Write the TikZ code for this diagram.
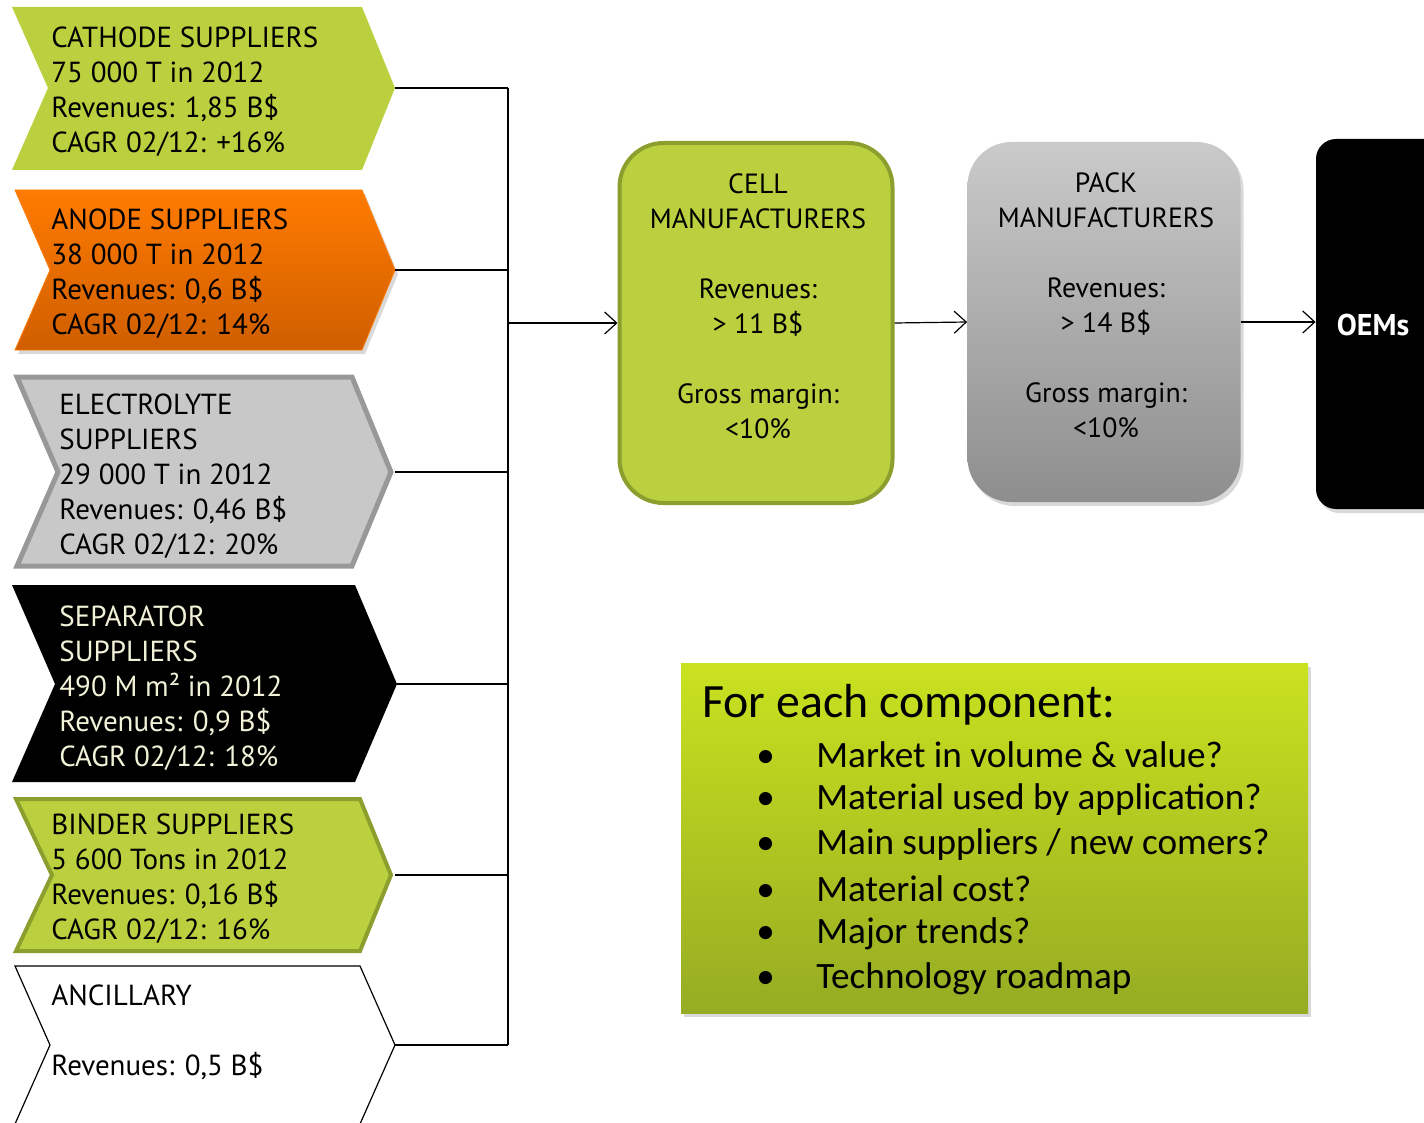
\documentclass[tikz,border=0pt]{standalone}
\usepackage{fontspec}
\setmainfont{PT Sans}
\newfontfamily\qfont{Carlito}
\usetikzlibrary{arrows.meta,shadows}

\definecolor{limegreen}{RGB}{187,208,62}
\definecolor{olivegreen}{RGB}{140,158,46}
\definecolor{anodetop}{RGB}{255,123,0}
\definecolor{anodebottom}{RGB}{207,94,0}
\definecolor{lightgrey}{RGB}{200,200,200}
\definecolor{midgrey}{RGB}{152,152,152}
\definecolor{packtop}{RGB}{202,202,202}
\definecolor{packbottom}{RGB}{142,142,142}
\definecolor{creamtext}{RGB}{242,242,216}
\definecolor{qtop}{RGB}{202,226,31}
\definecolor{qbottom}{RGB}{150,172,35}

\tikzset{
  supplier/.style={anchor=west, align=left, inner sep=0pt, font=\fontsize{14.5pt}{17.5pt}\selectfont},
  maker/.style={rounded corners=22pt, minimum width=136.5pt, minimum height=180pt},
  makertext/.style={align=center, inner sep=0pt, font=\fontsize{13.9pt}{17.5pt}\selectfont},
  link/.style={line width=0.6pt},
  flow/.style={line width=0.6pt, -{Straight Barb[length=6pt,width=11pt]}},
  question/.style={anchor=west, inner sep=0pt, font=\qfont\fontsize{18.6pt}{22pt}\selectfont},
  softshadow/.style={drop shadow={opacity=0.3, shadow xshift=1.5pt, shadow yshift=-2pt}}
}

\begin{document}
\begin{tikzpicture}[x=0.5pt, y=-0.5pt]
\useasboundingbox (0,0) rectangle (1424,1123);

% suppliers
\fill[limegreen] (12,7) -- (362,7) -- (395,88) -- (362,170) -- (12,170) -- (48,88) -- cycle;
\node[supplier] (cathode) at (51,92) {CATHODE SUPPLIERS\\75 000 T in 2012\\Revenues: 1,85 B\$\\CAGR 02/12: +16\%};
\coordinate (cathodetip) at (395,88);

\path[top color=anodetop, bottom color=anodebottom, draw=anodetop, softshadow] (15,190) -- (362,190) -- (395,270) -- (362,350) -- (15,350) -- (50,270) -- cycle;
\node[supplier] (anode) at (51,274) {ANODE SUPPLIERS\\38 000 T in 2012\\Revenues: 0,6 B\$\\CAGR 02/12: 14\%};
\coordinate (anodetip) at (395,270);

\draw[fill=lightgrey, draw=midgrey, line width=2.5pt] (17,377) -- (352,377) -- (391,472) -- (352,566) -- (17,566) -- (58,472) -- cycle;
\node[supplier] (electrolyte) at (59,476) {ELECTROLYTE\\SUPPLIERS\\29 000 T in 2012\\Revenues: 0,46 B\$\\CAGR 02/12: 20\%};
\coordinate (electrolytetip) at (395,472);

\fill[black] (12,585) -- (355,585) -- (397,684) -- (355,782) -- (12,782) -- (55,684) -- cycle;
\node[supplier, text=creamtext] (separator) at (59,688) {SEPARATOR\\SUPPLIERS\\490 M m² in 2012\\Revenues: 0,9 B\$\\CAGR 02/12: 18\%};
\coordinate (separatortip) at (397,684);

\draw[fill=limegreen, draw=olivegreen, line width=2pt] (16,799) -- (360,799) -- (391,875) -- (360,951) -- (16,951) -- (52,875) -- cycle;
\node[supplier] (binder) at (51,879) {BINDER SUPPLIERS\\5 600 Tons in 2012\\Revenues: 0,16 B\$\\CAGR 02/12: 16\%};
\coordinate (bindertip) at (395,875);

\draw[fill=white, line width=0.6pt] (15,966) -- (360,966) -- (395,1045) -- (360,1124) -- (15,1124) -- (50,1045) -- cycle;
\node[supplier] (ancillary) at (51,1032) {ANCILLARY\\ \\Revenues: 0,5 B\$};
\coordinate (ancillarytip) at (395,1045);

%-------------------------------------
\coordinate (busmid) at (508,323);
\draw[link] (cathodetip) -- (cathodetip -| busmid);
\draw[link] (anodetip) -- (anodetip -| busmid);
\draw[link] (electrolytetip) -- (electrolytetip -| busmid);
\draw[link] (separatortip) -- (separatortip -| busmid);
\draw[link] (bindertip) -- (bindertip -| busmid);
\draw[link] (ancillarytip) -- (ancillarytip -| busmid);
\draw[link] (cathodetip -| busmid) -- (ancillarytip -| busmid);

% makers
\node[maker, fill=limegreen, draw=olivegreen, line width=2pt] (cell) at (756,323) {};
\node[makertext] (celltext) at (758,306) {CELL\\MANUFACTURERS\\[17.5pt]Revenues:\\> 11 B\$\\[17.5pt]Gross margin:\\<10\%};

\node[maker, top color=packtop, bottom color=packbottom, softshadow] (pack) at (1104,322) {};
\node[makertext] (packtext) at (1106,305) {PACK\\MANUFACTURERS\\[17.5pt]Revenues:\\> 14 B\$\\[17.5pt]Gross margin:\\<10\%};

\node[rounded corners=10pt, fill=black, minimum width=77pt, minimum height=185pt, softshadow] (oems) at (1393,324) {};
\node[text=white, font=\bfseries\fontsize{15pt}{18pt}\selectfont] (oemslabel) at (1373,325) {OEMs};

\draw[flow] (busmid) -- (cell.west);
\draw[flow] (cell.east) -- (pack.west);
\draw[flow] (pack.east) -- (pack.east -| oems.west);

%-------------------------------------
\node[minimum width=313.5pt, minimum height=175pt, top color=qtop, bottom color=qbottom, softshadow] (qbox) at (994.5,838) {};
\node[question, font=\qfont\fontsize{23.9pt}{27pt}\selectfont] (qhead) at (702,705) {For each component:};
\node[question] (q1) at (756,755) {\makebox[30pt][l]{\textbullet}Market in volume \& value?};
\node[question] (q2) at (756,800) {\makebox[30pt][l]{\textbullet}Material used by application?};
\node[question] (q3) at (756,845) {\makebox[30pt][l]{\textbullet}Main suppliers / new comers?};
\node[question] (q4) at (756,889) {\makebox[30pt][l]{\textbullet}Material cost?};
\node[question] (q5) at (756,934) {\makebox[30pt][l]{\textbullet}Major trends?};
\node[question] (q6) at (756,979) {\makebox[30pt][l]{\textbullet}Technology roadmap};

\end{tikzpicture}
\end{document}
